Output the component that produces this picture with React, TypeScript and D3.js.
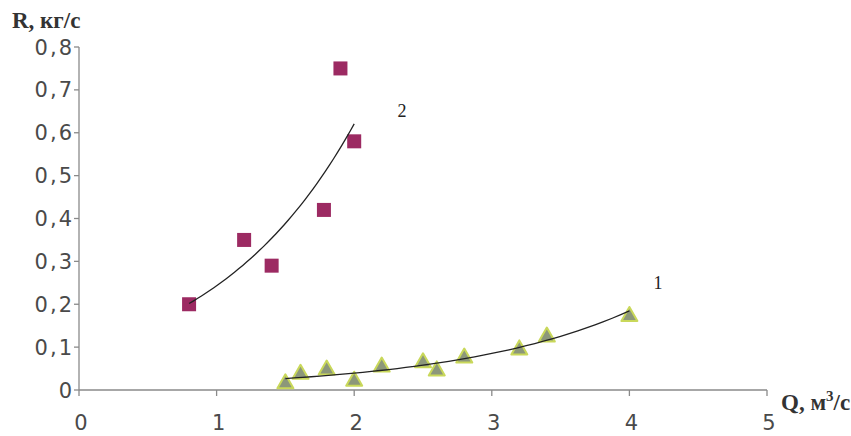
import React from "react";
import * as d3 from "d3";

const q2 = [0.8, 1.2, 1.4, 1.78, 1.9, 2.0];
const r2 = [0.2, 0.35, 0.29, 0.42, 0.75, 0.58];
const q1 = [1.5, 1.61, 1.8, 2.0, 2.2, 2.5, 2.6, 2.8, 3.2, 3.4, 4.0];
const r1 = [0.018, 0.04, 0.05, 0.024, 0.057, 0.067, 0.048, 0.078, 0.097, 0.127, 0.175];
const xTicks = [0, 1, 2, 3, 4, 5];
const yTicks = [0, 0.1, 0.2, 0.3, 0.4, 0.5, 0.6, 0.7, 0.8];

function expFit(xs: number[], ys: number[]) {
  const n = xs.length;
  const ly = ys.map(Math.log);
  const mx = d3.mean(xs)!;
  const my = d3.mean(ly)!;
  let sxy = 0, sxx = 0;
  for (let i = 0; i < n; i++) {
    sxy += (xs[i] - mx) * (ly[i] - my);
    sxx += (xs[i] - mx) ** 2;
  }
  const b = sxy / sxx;
  const a = Math.exp(my - b * mx);
  return (x: number) => a * Math.exp(b * x);
}

export default function App() {
  const W = 851, H = 436;
  const x = d3.scaleLinear().domain([0, 5]).range([79, 767]);
  const y = d3.scaleLinear().domain([0, 0.8]).range([390, 47]);
  const f1 = expFit(q1, r1);
  const f2 = expFit(q2, r2);
  const curve = (f: (v: number) => number, a: number, b: number) => {
    const pts = d3.range(0, 41).map((i) => a + ((b - a) * i) / 40);
    return d3.line<number>().x((v) => x(v)).y((v) => y(f(v)))(pts) || "";
  };
  const fmt = (v: number) => (v === 0 ? "0" : v.toFixed(1).replace(".", ","));
  const tickFont = "'DejaVu Sans', Verdana, sans-serif";
  const serif = "'Liberation Serif', 'DejaVu Serif', serif";
  const axisCol = "#8a8a8a";
  return (
    <svg width={W} height={H} style={{ position: "absolute", left: 0, top: 0, background: "#fff" }}>
      {/* axes */}
      <line x1={x(0)} x2={x(0)} y1={y(0.8)} y2={y(0)} stroke={axisCol} strokeWidth={1.3} />
      <line x1={x(0)} x2={x(5)} y1={y(0)} y2={y(0)} stroke={axisCol} strokeWidth={1.3} />
      {yTicks.map((t) => (
        <g key={"y" + t}>
          <line x1={x(0) - 5} x2={x(0)} y1={y(t)} y2={y(t)} stroke={axisCol} strokeWidth={1.3} />
          <text x={x(0) - 5} y={y(t)} dy="0.36em" textAnchor="end" fontFamily={tickFont} fontSize={21} letterSpacing={2} fill="#4a4a4a">
            {fmt(t)}
          </text>
        </g>
      ))}
      {xTicks.map((t) => (
        <g key={"x" + t}>
          <line x1={x(t)} x2={x(t)} y1={y(0)} y2={y(0) + 6} stroke={axisCol} strokeWidth={1.3} />
          <text x={x(t) + 2} y={430} textAnchor="middle" fontFamily={tickFont} fontSize={21} fill="#4a4a4a">
            {t}
          </text>
        </g>
      ))}
      {/* series 2 squares */}
      {q2.map((q, i) => (
        <rect key={"s" + i} x={x(q) - 7} y={y(r2[i]) - 7} width={14} height={14} fill="#9c2a62" />
      ))}
      {/* series 1 triangles */}
      {q1.map((q, i) => {
        const cx = x(q), cy = y(r1[i]);
        return (
          <path
            key={"t" + i}
            d={`M${cx},${cy - 8} L${cx + 8},${cy + 6} L${cx - 8},${cy + 6} Z`}
            fill="#8c977a"
            stroke="#c9d85a"
            strokeWidth={2}
            strokeLinejoin="round"
          />
        );
      })}
      {/* trendlines */}
      <path d={curve(f2, 0.8, 2.0)} fill="none" stroke="#222" strokeWidth={1.3} />
      <path d={curve(f1, 1.5, 4.0)} fill="none" stroke="#222" strokeWidth={1.3} />
      {/* labels */}
      <text x={402} y={117} textAnchor="middle" fontFamily={serif} fontSize={18} fill="#222">2</text>
      <text x={658} y={289} textAnchor="middle" fontFamily={serif} fontSize={18} fill="#222">1</text>
      <text x={12} y={28} fontFamily={serif} fontSize={23} fontWeight="bold" fill="#333">R, кг/с</text>
      <text x={781} y={410} fontFamily={serif} fontSize={23} fontWeight="bold" fill="#333">
        Q, м<tspan dy={-9} fontSize={15}>3</tspan><tspan dy={9}>/с</tspan>
      </text>
    </svg>
  );
}
